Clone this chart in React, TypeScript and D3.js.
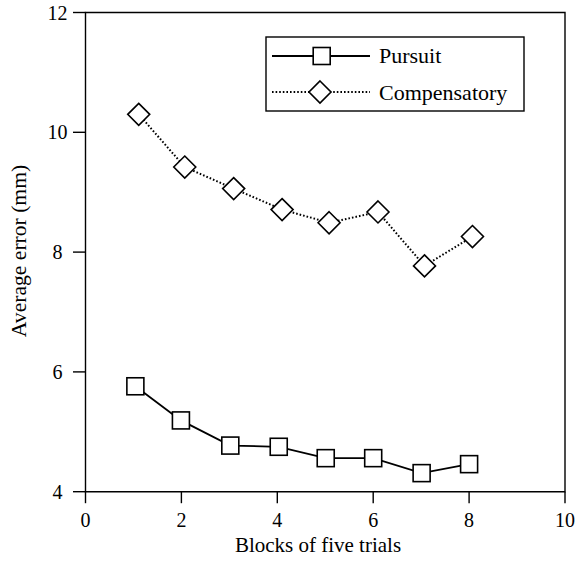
import React from "react";
import * as d3 from "d3";

const xTicks = [0, 2, 4, 6, 8, 10];
const yTicks = [4, 6, 8, 10, 12];
const pursuitX = [1.04, 1.99, 3.02, 4.03, 5.01, 6.0, 7.01, 8.0];
const pursuitY = [5.76, 5.19, 4.77, 4.75, 4.56, 4.56, 4.31, 4.46];
const compX = [1.11, 2.07, 3.09, 4.1, 5.08, 6.1, 7.07, 8.07];
const compY = [10.3, 9.42, 9.06, 8.71, 8.49, 8.67, 7.77, 8.26];
const seriesNames = ["Pursuit", "Compensatory"];
const xTitle = "Blocks of five trials";
const yTitle = "Average error (mm)";

const W = 576;
const H = 562;
const font = "Liberation Serif";

export default function App() {
  const x = d3.scaleLinear().domain([0, 10]).range([85.5, 565]);
  const y = d3.scaleLinear().domain([4, 12]).range([491.7, 12.5]);
  const line = d3.line<[number, number]>().x((d) => x(d[0])).y((d) => y(d[1]));
  const pData = pursuitX.map((v, i) => [v, pursuitY[i]] as [number, number]);
  const cData = compX.map((v, i) => [v, compY[i]] as [number, number]);
  const sq = 17;
  const dm = 11;
  const diamond = (cx: number, cy: number) =>
    `M${cx},${cy - dm}L${cx + dm},${cy}L${cx},${cy + dm}L${cx - dm},${cy}Z`;
  const [x0, x1] = x.range();
  const [y0, y1] = y.range();
  const ts = { fontFamily: font };
  return (
    <svg
      width={W}
      height={H}
      style={{ position: "absolute", left: 0, top: 0, background: "#fff", fontFamily: font }}
    >
      <path
        d={`M${x0},${y1}L${x1},${y1}L${x1},${y0}L${x0},${y0}Z`}
        fill="none"
        stroke="#000"
        strokeWidth={1.4}
      />
      {xTicks.map((t) => (
        <g key={"x" + t}>
          <line x1={x(t)} x2={x(t)} y1={y0} y2={y0 + 11.5} stroke="#000" strokeWidth={1.4} />
          <text x={x(t)} y={526.5} textAnchor="middle" fontSize={20} style={ts}>
            {t}
          </text>
        </g>
      ))}
      {yTicks.map((t) => (
        <g key={"y" + t}>
          <line x1={x0 - 12.5} x2={x0} y1={y(t)} y2={y(t)} stroke="#000" strokeWidth={1.4} />
          <text x={57.5} y={y(t)} dy="0.35em" textAnchor="middle" fontSize={20} style={ts}>
            {t}
          </text>
        </g>
      ))}
      <text x={318} y={552} textAnchor="middle" fontSize={21} style={ts}>
        {xTitle}
      </text>
      <text transform="translate(25.5,251) rotate(-90)" textAnchor="middle" fontSize={21.6} style={ts}>
        {yTitle}
      </text>
      <path d={line(cData) || ""} fill="none" stroke="#000" strokeWidth={2} strokeDasharray="1.6 2" />
      {cData.map((d, i) => (
        <path key={"c" + i} d={diamond(x(d[0]), y(d[1]))} fill="#fff" stroke="#000" strokeWidth={1.6} />
      ))}
      <path d={line(pData) || ""} fill="none" stroke="#000" strokeWidth={1.8} />
      {pData.map((d, i) => (
        <rect
          key={"p" + i}
          x={x(d[0]) - sq / 2}
          y={y(d[1]) - sq / 2}
          width={sq}
          height={sq}
          fill="#fff"
          stroke="#000"
          strokeWidth={1.6}
        />
      ))}
      <rect x={266} y={37} width={258} height={74} fill="#fff" stroke="#000" strokeWidth={1.4} />
      <line x1={272} x2={370} y1={56} y2={56} stroke="#000" strokeWidth={1.8} />
      <rect x={321.7 - sq / 2} y={56 - sq / 2} width={sq} height={sq} fill="#fff" stroke="#000" strokeWidth={1.6} />
      <text x={379} y={63} fontSize={22} style={ts}>
        {seriesNames[0]}
      </text>
      <line x1={272} x2={370} y1={92} y2={92} stroke="#000" strokeWidth={2} strokeDasharray="1.6 2" />
      <path d={diamond(320, 92)} fill="#fff" stroke="#000" strokeWidth={1.6} />
      <text x={379} y={99.5} fontSize={22} style={ts}>
        {seriesNames[1]}
      </text>
    </svg>
  );
}
